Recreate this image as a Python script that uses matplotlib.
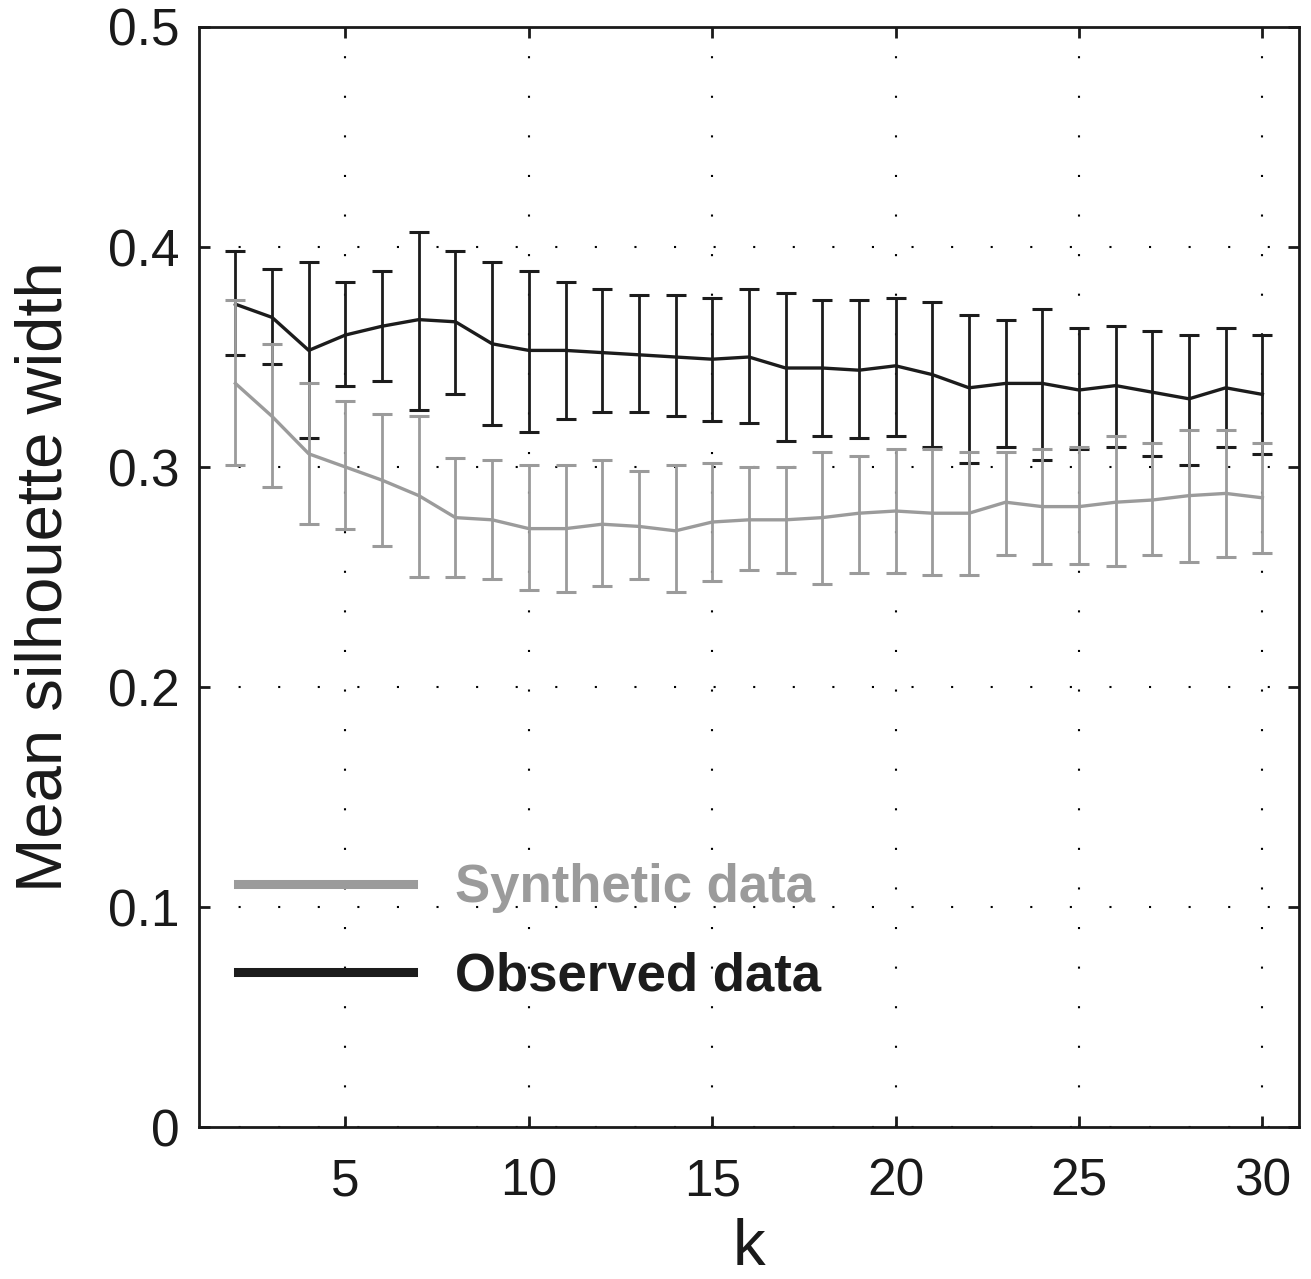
import numpy as np
import matplotlib
matplotlib.use("Agg")
import matplotlib.pyplot as plt
from matplotlib.lines import Line2D

plt.rcParams['font.family'] = ['Liberation Sans', 'DejaVu Sans']

ks = list(range(2, 31))

obs_mean = [0.374, 0.368, 0.353, 0.360, 0.364, 0.367, 0.366, 0.356, 0.353, 0.353,
            0.352, 0.351, 0.350, 0.349, 0.350, 0.345, 0.345, 0.344, 0.346, 0.342,
            0.336, 0.338, 0.338, 0.335, 0.337, 0.334, 0.331, 0.336, 0.333]
obs_low = [0.351, 0.347, 0.313, 0.337, 0.339, 0.326, 0.333, 0.319, 0.316, 0.322,
           0.325, 0.325, 0.323, 0.321, 0.320, 0.312, 0.314, 0.313, 0.314, 0.309,
           0.302, 0.309, 0.303, 0.308, 0.309, 0.305, 0.301, 0.309, 0.306]
obs_high = [0.398, 0.390, 0.393, 0.384, 0.389, 0.407, 0.398, 0.393, 0.389, 0.384,
            0.381, 0.378, 0.378, 0.377, 0.381, 0.379, 0.376, 0.376, 0.377, 0.375,
            0.369, 0.367, 0.372, 0.363, 0.364, 0.362, 0.360, 0.363, 0.360]

syn_mean = [0.338, 0.323, 0.306, 0.300, 0.294, 0.287, 0.277, 0.276, 0.272, 0.272,
            0.274, 0.273, 0.271, 0.275, 0.276, 0.276, 0.277, 0.279, 0.280, 0.279,
            0.279, 0.284, 0.282, 0.282, 0.284, 0.285, 0.287, 0.288, 0.286]
syn_low = [0.301, 0.291, 0.274, 0.272, 0.264, 0.250, 0.250, 0.249, 0.244, 0.243,
           0.246, 0.249, 0.243, 0.248, 0.253, 0.252, 0.247, 0.252, 0.252, 0.251,
           0.251, 0.260, 0.256, 0.256, 0.255, 0.260, 0.257, 0.259, 0.261]
syn_high = [0.376, 0.356, 0.338, 0.330, 0.324, 0.323, 0.304, 0.303, 0.301, 0.301,
            0.303, 0.298, 0.301, 0.302, 0.300, 0.300, 0.307, 0.305, 0.308, 0.308,
            0.307, 0.307, 0.308, 0.309, 0.314, 0.311, 0.317, 0.317, 0.311]

x_ticks = [5, 10, 15, 20, 25, 30]
y_ticks = [0, 0.1, 0.2, 0.3, 0.4, 0.5]
y_ticklabels = ['0', '0.1', '0.2', '0.3', '0.4', '0.5']
labels = ['Synthetic data', 'Observed data']

GREY = '#9b9b9b'
BLACK = '#1c1c1c'

fig = plt.figure(figsize=(13.11, 12.79), dpi=100)
ax = fig.add_axes([0.1516, 0.1188, 0.8393, 0.8601])

k = np.array(ks)
om, ol, oh = np.array(obs_mean), np.array(obs_low), np.array(obs_high)
sm, sl, sh = np.array(syn_mean), np.array(syn_low), np.array(syn_high)

ax.errorbar(k, om, yerr=[om - ol, oh - om], color=BLACK, lw=2.4,
            elinewidth=2.0, capsize=7.5, capthick=2.2, zorder=3)
ax.errorbar(k, sm, yerr=[sm - sl, sh - sm], color=GREY, lw=2.4,
            elinewidth=2.0, capsize=7.5, capthick=2.2, zorder=4)

ax.set_xlim(1, 31)
ax.set_ylim(0, 0.5)
ax.set_xticks(x_ticks)
ax.set_xticklabels([str(t) for t in x_ticks])
ax.set_yticks(y_ticks)
ax.set_yticklabels(y_ticklabels)

ax.grid(True, color='black', linestyle=(0, (1, 18)), linewidth=1.5, zorder=0)
ax.set_axisbelow(True)

ax.tick_params(direction='in', length=8, width=2, labelsize=37, top=True, right=True,
               colors='#1a1a1a')
ax.tick_params(axis='x', pad=22)
ax.tick_params(axis='y', pad=14)
for s in ax.spines.values():
    s.set_linewidth(2)
    s.set_color('#1a1a1a')

ax.set_xlabel('k', fontsize=47, labelpad=8, color='#1a1a1a')
ax.set_ylabel('Mean silhouette width', fontsize=47, labelpad=24, color='#1a1a1a')

handles = [Line2D([0], [0], color=GREY, lw=6.5), Line2D([0], [0], color=BLACK, lw=6.5)]
leg = ax.legend(handles, labels, loc='center left', bbox_to_anchor=(0.036, 0.177),
                frameon=False, handlelength=3.3, handletextpad=0.8, labelspacing=0.72,
                borderpad=0, borderaxespad=0,
                prop={'size': 38, 'weight': 'bold'}, labelcolor=[GREY, BLACK])

fig.savefig('out.png', dpi=100)
